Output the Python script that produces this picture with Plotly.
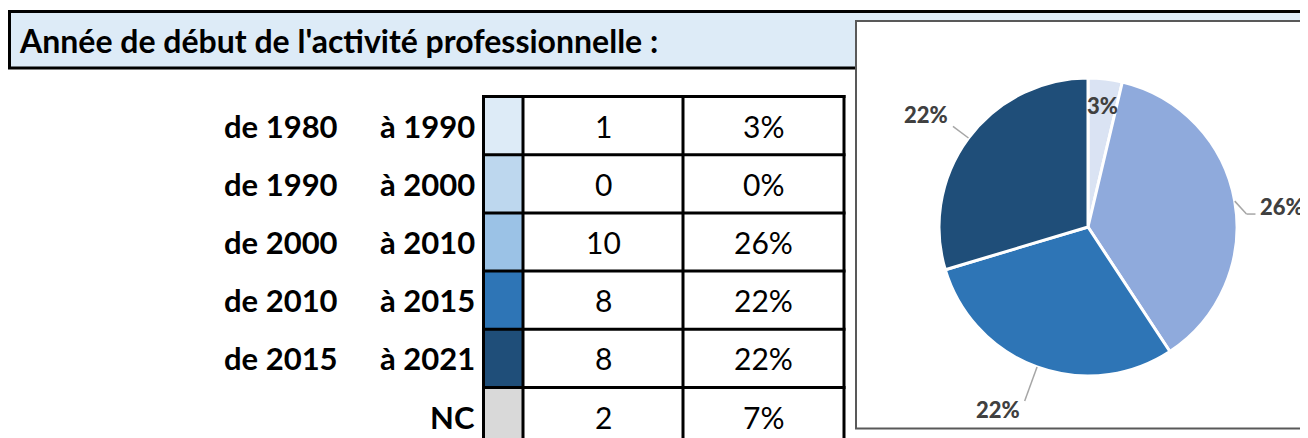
import math
import plotly.graph_objects as go

W, H = 1308, 438

# ---------------- data ----------------
title = "Année de début de l'activité professionnelle :"
range_from = ["de 1980", "de 1990", "de 2000", "de 2010", "de 2015", ""]
range_to = ["à 1990", "à 2000", "à 2010", "à 2015", "à 2021", "NC"]
counts = [1, 0, 10, 8, 8, 2]
pct_labels = ["3%", "0%", "26%", "22%", "22%", "7%"]
swatch_colors = ["#DDEBF7", "#BDD7EE", "#9BC2E6", "#2E75B6", "#1F4E79", "#D9D9D9"]
pie_colors_map = ["#DAE3F3", "#BDD7EE", "#8FAADC", "#2E75B6", "#1F4E79", "#D9D9D9"]
label_inside = [True, False, False, False, False, False]

# slices shown in the pie: non-zero ranges (NC excluded)
pie_idx = [i for i in range(len(counts)) if counts[i] > 0 and range_to[i] != "NC"]
pie_values = [counts[i] for i in pie_idx]
pie_text = [pct_labels[i] for i in pie_idx]
pie_colors = [pie_colors_map[i] for i in pie_idx]
pie_inside = [label_inside[i] for i in pie_idx]

# ---------------- layout helpers ----------------
OFF = 8  # page body margin


def X(px):
    return (px - OFF) / W


def Y(py):
    return 1 - (py - OFF) / H


FONT = "Lato"
shapes = []
annotations = []

# title bar
shapes.append(dict(type="rect", xref="paper", yref="paper", layer="below",
                   x0=X(9.5), x1=X(1320), y0=Y(68), y1=Y(11.5),
                   fillcolor="#DDEBF7", line=dict(color="black", width=3)))
annotations.append(dict(x=X(17), y=Y(41), xref="paper", yref="paper",
                        text=title, showarrow=False, xanchor="left", yanchor="middle",
                        font=dict(family=FONT, size=32, color="black", weight="bold")))

# pie box
shapes.append(dict(type="rect", xref="paper", yref="paper", layer="below",
                   x0=X(856), x1=X(1320), y0=Y(428.5), y1=Y(21),
                   fillcolor="white", line=dict(color="#595959", width=2)))

# table
col_x = [483.5, 523, 683, 844]
row_top = 96.5
row_h = 58.2
n = len(counts)
for i in range(n):
    y0 = row_top + i * row_h
    y1 = y0 + row_h
    shapes.append(dict(type="rect", xref="paper", yref="paper",
                       x0=X(col_x[0]), x1=X(col_x[1]), y0=Y(y1), y1=Y(y0),
                       fillcolor=swatch_colors[i], line=dict(width=0)))
    yc = (y0 + y1) / 2
    annotations.append(dict(x=X((col_x[1] + col_x[2]) / 2), y=Y(yc), xref="paper", yref="paper",
                            text=str(counts[i]), showarrow=False, xanchor="center", yanchor="middle",
                            font=dict(family=FONT, size=30, color="black")))
    annotations.append(dict(x=X((col_x[2] + col_x[3]) / 2), y=Y(yc), xref="paper", yref="paper",
                            text=pct_labels[i], showarrow=False, xanchor="center", yanchor="middle",
                            font=dict(family=FONT, size=30, color="black")))
    if range_from[i]:
        annotations.append(dict(x=X(340), y=Y(yc), xref="paper", yref="paper",
                                text=range_from[i], showarrow=False, xanchor="right", yanchor="middle",
                                font=dict(family=FONT, size=31, color="black", weight="bold")))
    annotations.append(dict(x=X(477), y=Y(yc), xref="paper", yref="paper",
                            text=range_to[i], showarrow=False, xanchor="right", yanchor="middle",
                            font=dict(family=FONT, size=31, color="black", weight="bold")))

table_bottom = row_top + n * row_h
# horizontal lines
for i in range(n + 1):
    yy = row_top + i * row_h
    shapes.append(dict(type="line", xref="paper", yref="paper",
                       x0=X(col_x[0] - 1.5), x1=X(col_x[-1] + 1.5), y0=Y(yy), y1=Y(yy),
                       line=dict(color="black", width=3)))
# vertical lines
for cxl in col_x:
    shapes.append(dict(type="line", xref="paper", yref="paper",
                       x0=X(cxl), x1=X(cxl), y0=Y(table_bottom), y1=Y(row_top - 1.5),
                       line=dict(color="black", width=3)))

# ---------------- pie ----------------
cx, cy, R = 1088, 227, 149
fig = go.Figure(go.Pie(
    values=pie_values,
    sort=False,
    direction="clockwise",
    rotation=0,
    marker=dict(colors=pie_colors, line=dict(color="white", width=3)),
    textinfo="none",
    hoverinfo="skip",
    domain=dict(x=[X(cx - R), X(cx + R)], y=[Y(cy + R), Y(cy - R)]),
))

LEADER = "#A6A6A6"
LABEL_FONT = dict(family=FONT, size=22, color="#404040", weight=900)
total = sum(pie_values)
cum = 0
for v, t, inside in zip(pie_values, pie_text, pie_inside):
    mid = (cum + v / 2) / total * 2 * math.pi
    cum += v
    sx, sy = math.sin(mid), -math.cos(mid)
    if inside:
        annotations.append(dict(x=X(cx + 0.82 * R * sx), y=Y(cy + 0.82 * R * sy),
                                xref="paper", yref="paper", text=t, showarrow=False,
                                xanchor="center", yanchor="middle", font=LABEL_FONT))
        continue
    side = 1 if sx > 0 else -1
    p0 = (cx + R * sx, cy + R * sy)
    if abs(sx) > 0.9:
        p1 = (cx + 1.08 * R * sx, cy + 1.08 * R * sy + 15)
        p2 = (p1[0] + side * 9, p1[1])
        shapes.append(dict(type="line", xref="paper", yref="paper",
                           x0=X(p0[0]), y0=Y(p0[1]), x1=X(p1[0]), y1=Y(p1[1]),
                           line=dict(color=LEADER, width=1.5)))
        shapes.append(dict(type="line", xref="paper", yref="paper",
                           x0=X(p1[0]), y0=Y(p1[1]), x1=X(p2[0]), y1=Y(p2[1]),
                           line=dict(color=LEADER, width=1.5)))
        tx, ty = p2[0] + side * 3, p2[1] - 8
    else:
        rl = 1.13 + 0.12 * max(0.0, sy)
        p1 = (cx + rl * R * sx, cy + rl * R * sy)
        shapes.append(dict(type="line", xref="paper", yref="paper",
                           x0=X(p0[0]), y0=Y(p0[1]), x1=X(p1[0]), y1=Y(p1[1]),
                           line=dict(color=LEADER, width=1.5)))
        tx, ty = p1[0] + side * 3, p1[1] + (8 if sy > 0 else -12)
    annotations.append(dict(x=X(tx), y=Y(ty), xref="paper", yref="paper",
                            text=t, showarrow=False,
                            xanchor="left" if side > 0 else "right", yanchor="middle",
                            font=LABEL_FONT))

fig.update_layout(
    width=W, height=H,
    margin=dict(l=0, r=0, t=0, b=0),
    paper_bgcolor="white", plot_bgcolor="white",
    showlegend=False,
    shapes=shapes,
    annotations=annotations,
)

fig.write_html("out.html")
